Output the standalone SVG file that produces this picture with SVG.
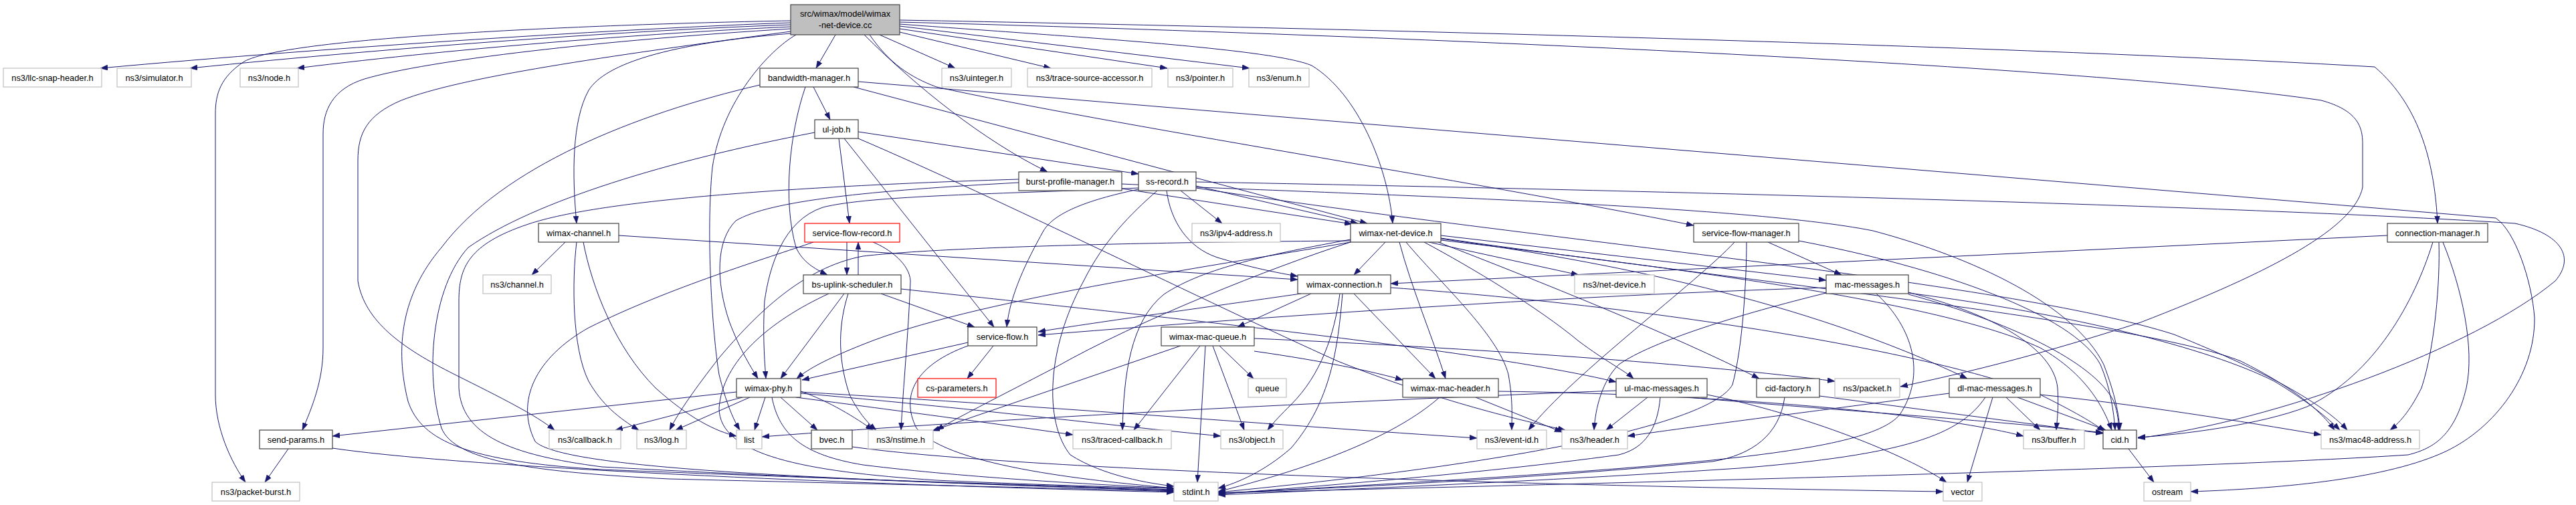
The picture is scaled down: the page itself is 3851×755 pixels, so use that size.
<svg xmlns="http://www.w3.org/2000/svg" width="3851" height="755" viewBox="0 0 3851 755">
<style>
.p rect{fill:#fff;stroke:#404040;stroke-width:1.2}
.x rect{fill:#fff;stroke:#bfbfbf;stroke-width:1.2}
.t rect{fill:#fff;stroke:#ff0000;stroke-width:1.2}
.root rect{fill:#bfbfbf;stroke:#404040;stroke-width:1.2}
text{font-family:"Liberation Sans",Arial,Helvetica,sans-serif;font-size:12.8px;text-anchor:middle;fill:#000}
#edges path{fill:none;stroke:#191970;stroke-width:1;marker-end:url(#arr)}
</style>
<defs>
<marker id="arr" viewBox="0 0 11 8" refX="11" refY="4" markerWidth="11" markerHeight="8" markerUnits="userSpaceOnUse" orient="auto"><path d="M0,0L11,4L0,8z" fill="#191970" stroke="#191970" stroke-width="0.5"/></marker>
</defs>
<rect x="0" y="0" width="3851" height="755" fill="#fff"/>
<g id="edges">
<path d="M1182,34 C950,42 500,70 150,102"/>
<path d="M1182,37 C950,45 600,70 284,102"/>
<path d="M1182,40 C1000,48 700,70 444,102"/>
<path d="M1182,31 C900,36 430,55 365,92 C330,115 322,140 322,170 L322,590 C322,640 345,690 367,721"/>
<path d="M1182,43 C900,60 640,90 545,118 C497,133 483,165 483,200 L483,520 C483,570 466,610 452,643"/>
<path d="M1182,47 C900,85 690,115 600,150 C548,172 535,200 535,240 L535,420 C545,480 600,520 680,560 C750,595 800,620 829,643"/>
<path d="M1182,50 C1000,65 905,95 880,135 C855,180 855,260 862,334"/>
<path d="M1249,52 L1220,102"/>
<path d="M1292,52 C1370,130 1470,210 1566,257"/>
<path d="M1315,52 L1428,102"/>
<path d="M1345,48 L1571,102"/>
<path d="M1345,43 L1745,102"/>
<path d="M1345,39 L1868,102"/>
<path d="M1345,36 C1600,55 1900,72 1961,98 C2030,140 2075,250 2082,334"/>
<path d="M1300,52 C1330,95 1360,115 1400,130 C1650,185 2200,270 2532,337"/>
<path d="M1345,30 C2000,42 3000,68 3550,100 C3620,160 3640,250 3644,334"/>
<path d="M1345,33 C2000,50 3100,95 3470,150 C3525,165 3532,190 3532,215 L3532,280 C3520,340 3400,405 3200,482 C3050,530 2950,555 2841,578"/>
<path d="M1190,52 C1150,75 1080,150 1065,250 C1055,350 1065,500 1075,560 C1085,600 1095,625 1106,643"/>
<path d="M1216,130 L1241,179"/>
<path d="M1204,130 C1180,200 1170,300 1190,370 C1200,392 1218,402 1237,411"/>
<path d="M1276,130 L2044,334"/>
<path d="M1283,122 L3731,326 C3760,345 3785,420 3789,475 C3790,560 3730,640 3656,675 C3570,715 3420,730 3275,735"/>
<path d="M1136,127 C950,170 750,250 660,370 C600,440 590,520 610,600 C630,660 700,690 900,702 C1300,718 1600,727 1755,732"/>
<path d="M1283,197 L1702,260"/>
<path d="M1254,207 L1270,334"/>
<path d="M1262,207 L1486,489"/>
<path d="M1283,207 C1500,300 1800,450 2000,540 C2150,600 2280,630 2340,643"/>
<path d="M1218,198 C1000,240 800,300 700,370 C645,430 635,560 660,640 C680,690 800,706 1000,716 C1400,726 1650,731 1755,735"/>
<path d="M1523,273 C1300,285 1150,300 1100,330 C1070,360 1070,420 1090,480 C1105,520 1120,545 1133,566"/>
<path d="M1523,268 C1200,278 900,298 790,335 C700,365 686,400 686,450 L686,580 C690,650 760,680 900,698 C1300,720 1600,728 1755,734"/>
<path d="M1677,282 L2021,335"/>
<path d="M1677,275 C2000,290 2600,305 2800,345 C2950,385 3100,455 3145,545 C3162,590 3168,620 3169,643"/>
<path d="M1765,285 L1827,334"/>
<path d="M1788,278 L2030,334"/>
<path d="M1702,281 C1500,290 1300,292 1230,310 C1170,330 1150,400 1143,450 C1140,500 1143,540 1145,566"/>
<path d="M1702,283 C1620,300 1575,320 1560,345 C1535,390 1510,440 1505,489"/>
<path d="M1744,285 C1750,330 1775,370 1820,385 C1870,400 1910,408 1940,413"/>
<path d="M1730,285 C1690,320 1650,360 1620,420 C1565,520 1560,630 1600,680 C1650,712 1720,723 1755,727"/>
<path d="M1788,281 C2300,360 3000,420 3250,500 C3400,560 3480,610 3509,643"/>
<path d="M1788,272 C2500,285 3400,310 3760,334 C3830,350 3850,385 3820,420 C3700,520 3400,630 3196,655"/>
<path d="M845,362 L795,411"/>
<path d="M862,362 C855,420 855,520 880,570 C900,605 925,625 955,643"/>
<path d="M872,362 C885,430 920,520 980,580 C1030,625 1070,645 1101,652"/>
<path d="M925,352 L1940,418"/>
<path d="M1266,362 L1266,411"/>
<path d="M1283,411 L1283,362"/>
<path d="M1305,362 C1330,372 1360,395 1361,420 C1358,500 1350,580 1347,643"/>
<path d="M1216,362 C1150,385 1000,430 880,490 C800,535 770,600 800,660 C840,700 1200,716 1755,733"/>
<path d="M1262,439 L1167,566"/>
<path d="M1317,439 L1457,489"/>
<path d="M1347,432 C1700,470 2200,520 2416,571"/>
<path d="M1268,439 C1255,480 1250,530 1270,590 C1285,620 1300,635 1310,643"/>
<path d="M1239,439 C1150,480 1080,540 1075,610 C1075,680 1200,705 1400,718 C1550,725 1700,729 1755,730"/>
<path d="M2071,362 L2024,411"/>
<path d="M2092,362 C2110,430 2140,500 2161,566"/>
<path d="M2102,362 C2150,420 2240,500 2255,560 C2262,600 2260,620 2260,643"/>
<path d="M2129,362 C2200,400 2300,460 2360,510 C2400,540 2430,555 2442,566"/>
<path d="M2136,362 L2360,411"/>
<path d="M2154,357 C2400,390 2700,450 2941,566"/>
<path d="M2154,352 L2730,419"/>
<path d="M2150,362 C2300,420 2500,500 2630,566"/>
<path d="M2154,356 C2600,420 3200,480 3350,540 C3430,580 3470,615 3490,643"/>
<path d="M2154,359 C2500,400 2900,450 3050,520 C3120,560 3145,610 3157,643"/>
<path d="M2019,358 C1900,380 1800,400 1740,440 C1690,480 1680,560 1678,643"/>
<path d="M2019,362 C1900,400 1700,480 1580,548 C1480,600 1430,625 1400,643"/>
<path d="M2019,360 C1700,362 1400,370 1290,383 C1200,400 1130,470 1075,535 C1040,580 1015,615 1001,643"/>
<path d="M2019,362 C1800,400 1450,450 1290,515 C1240,535 1210,550 1191,566"/>
<path d="M2593,362 C2540,420 2350,560 2285,643"/>
<path d="M2611,362 C2611,420 2605,520 2590,575 C2560,630 2300,690 1821,736"/>
<path d="M2643,362 L2753,411"/>
<path d="M2689,360 C2900,400 3100,470 3140,545 C3155,580 3160,615 3162,643"/>
<path d="M3569,352 L2079,424"/>
<path d="M3637,362 C3610,450 3550,560 3449,608 C3380,635 3260,650 3196,654"/>
<path d="M3646,362 C3648,420 3640,520 3620,580 C3605,610 3590,630 3573,643"/>
<path d="M3652,362 C3680,430 3700,520 3687,580 C3670,650 3640,670 3600,680 C3300,700 2500,720 1821,737"/>
<path d="M1960,439 L1850,489"/>
<path d="M1945,439 C1800,460 1650,480 1552,496"/>
<path d="M2024,439 L2146,566"/>
<path d="M2007,439 C2000,520 1990,600 1930,670 C1890,705 1850,722 1821,730"/>
<path d="M2003,439 C1995,500 1975,560 1930,605 C1915,620 1905,630 1895,643"/>
<path d="M2079,430 C2500,460 2900,530 3050,590 C3100,615 3130,632 3146,645"/>
<path d="M2730,430 C2400,440 2000,465 1552,501"/>
<path d="M2730,438 C2600,470 2470,510 2420,545 C2395,570 2385,610 2383,643"/>
<path d="M2805,439 C2860,490 2880,560 2840,620 C2790,680 2500,700 1821,738"/>
<path d="M2853,437 C2980,470 3070,520 3076,580 C3078,610 3075,630 3074,643"/>
<path d="M2853,440 C3000,480 3130,540 3160,600 C3167,620 3167,632 3167,643"/>
<path d="M2853,438 C3100,470 3300,520 3400,570 C3450,600 3480,625 3498,643"/>
<path d="M1485,517 L1446,566"/>
<path d="M1447,512 L1199,568"/>
<path d="M1447,517 C1370,545 1345,590 1370,640 C1420,700 1650,720 1755,730"/>
<path d="M1823,517 L1874,566"/>
<path d="M1765,517 L1394,644"/>
<path d="M1794,517 L1695,643"/>
<path d="M1813,517 L1860,643"/>
<path d="M1802,517 L1790,721"/>
<path d="M1875,525 C1980,540 2050,555 2097,568"/>
<path d="M1875,506 C2200,520 2550,545 2743,570"/>
<path d="M2206,594 L2335,646"/>
<path d="M2152,594 C2100,640 2000,690 1821,735"/>
<path d="M2240,585 C2600,590 2900,620 3025,652"/>
<path d="M2463,594 L2401,643"/>
<path d="M2416,584 C2000,600 1500,625 1139,653"/>
<path d="M2482,594 C2478,640 2460,670 2420,680 C2200,710 1950,728 1821,739"/>
<path d="M2525,594 C2700,610 3000,630 3144,647"/>
<path d="M2552,590 C2700,620 2850,680 2910,721"/>
<path d="M2720,592 L3144,648"/>
<path d="M2668,594 C2660,650 2620,680 2560,690 C2300,715 2000,730 1821,737"/>
<path d="M2914,588 C2750,610 2550,635 2433,652"/>
<path d="M2968,594 C2930,650 2850,680 2600,700 C2300,720 2000,732 1821,740"/>
<path d="M2979,594 L2941,721"/>
<path d="M2999,594 L3050,643"/>
<path d="M3016,594 L3148,643"/>
<path d="M3050,590 C3200,605 3350,630 3470,650"/>
<path d="M431,671 L396,721"/>
<path d="M497,670 C700,700 1300,725 1755,736"/>
<path d="M1110,594 L920,643"/>
<path d="M1121,594 L1010,643"/>
<path d="M1144,594 L1128,643"/>
<path d="M1167,594 L1222,643"/>
<path d="M1101,586 L497,652"/>
<path d="M1197,585 C1240,600 1280,625 1305,643"/>
<path d="M1197,586 C1600,610 1900,635 2208,655"/>
<path d="M1197,588 C1450,610 1650,635 1825,652"/>
<path d="M1190,594 C1350,615 1500,635 1604,650"/>
<path d="M1154,594 C1165,650 1200,680 1290,695 C1450,715 1650,725 1755,730"/>
<path d="M3182,671 L3220,721"/>
<path d="M1274,668 C1500,700 2200,725 2905,735"/>
</g>
<g id="n_root" class="root"><rect x="1182" y="7" width="163" height="45"/><text x="1263.5" y="24.5">src/wimax/model/wimax</text><text x="1263.5" y="41.5">-net-device.cc</text></g>
<g id="n_llc" class="x"><rect x="5" y="102" width="147" height="28"/><text x="78.5" y="120.5">ns3/llc-snap-header.h</text></g>
<g id="n_simulator" class="x"><rect x="175" y="102" width="111" height="28"/><text x="230.5" y="120.5">ns3/simulator.h</text></g>
<g id="n_node" class="x"><rect x="359" y="102" width="87" height="28"/><text x="402.5" y="120.5">ns3/node.h</text></g>
<g id="n_bandwidth_manager" class="p"><rect x="1136" y="102" width="147" height="28"/><text x="1209.5" y="120.5">bandwidth-manager.h</text></g>
<g id="n_uinteger" class="x"><rect x="1408" y="102" width="104" height="28"/><text x="1460" y="120.5">ns3/uinteger.h</text></g>
<g id="n_trace_source_accessor" class="x"><rect x="1536" y="102" width="186" height="28"/><text x="1629" y="120.5">ns3/trace-source-accessor.h</text></g>
<g id="n_pointer" class="x"><rect x="1746" y="102" width="97" height="28"/><text x="1794.5" y="120.5">ns3/pointer.h</text></g>
<g id="n_enum" class="x"><rect x="1867" y="102" width="90" height="28"/><text x="1912" y="120.5">ns3/enum.h</text></g>
<g id="n_ul_job" class="p"><rect x="1218" y="179" width="65" height="28"/><text x="1250.5" y="197.5">ul-job.h</text></g>
<g id="n_burst_profile_manager" class="p"><rect x="1523" y="257" width="154" height="28"/><text x="1600" y="275.5">burst-profile-manager.h</text></g>
<g id="n_ss_record" class="p"><rect x="1702" y="257" width="86" height="28"/><text x="1745" y="275.5">ss-record.h</text></g>
<g id="n_wimax_channel" class="p"><rect x="805" y="334" width="120" height="28"/><text x="865" y="352.5">wimax-channel.h</text></g>
<g id="n_service_flow_record" class="t"><rect x="1203" y="334" width="142" height="28"/><text x="1274" y="352.5">service-flow-record.h</text></g>
<g id="n_ipv4_address" class="x"><rect x="1782" y="334" width="132" height="28"/><text x="1848" y="352.5">ns3/ipv4-address.h</text></g>
<g id="n_wimax_net_device" class="p"><rect x="2019" y="334" width="135" height="28"/><text x="2086.5" y="352.5">wimax-net-device.h</text></g>
<g id="n_service_flow_manager" class="p"><rect x="2532" y="334" width="157" height="28"/><text x="2610.5" y="352.5">service-flow-manager.h</text></g>
<g id="n_connection_manager" class="p"><rect x="3569" y="334" width="150" height="28"/><text x="3644" y="352.5">connection-manager.h</text></g>
<g id="n_channel" class="x"><rect x="722" y="411" width="102" height="28"/><text x="773" y="429.5">ns3/channel.h</text></g>
<g id="n_bs_uplink_scheduler" class="p"><rect x="1201" y="411" width="146" height="28"/><text x="1274" y="429.5">bs-uplink-scheduler.h</text></g>
<g id="n_wimax_connection" class="p"><rect x="1940" y="411" width="139" height="28"/><text x="2009.5" y="429.5">wimax-connection.h</text></g>
<g id="n_net_device" class="x"><rect x="2354" y="411" width="119" height="28"/><text x="2413.5" y="429.5">ns3/net-device.h</text></g>
<g id="n_mac_messages" class="p"><rect x="2730" y="411" width="123" height="28"/><text x="2791.5" y="429.5">mac-messages.h</text></g>
<g id="n_service_flow" class="p"><rect x="1447" y="489" width="103" height="28"/><text x="1498.5" y="507.5">service-flow.h</text></g>
<g id="n_wimax_mac_queue" class="p"><rect x="1736" y="489" width="139" height="28"/><text x="1805.5" y="507.5">wimax-mac-queue.h</text></g>
<g id="n_wimax_phy" class="p"><rect x="1101" y="566" width="96" height="28"/><text x="1149" y="584.5">wimax-phy.h</text></g>
<g id="n_cs_parameters" class="t"><rect x="1372" y="566" width="117" height="28"/><text x="1430.5" y="584.5">cs-parameters.h</text></g>
<g id="n_queue" class="x"><rect x="1866" y="566" width="57" height="28"/><text x="1894.5" y="584.5">queue</text></g>
<g id="n_wimax_mac_header" class="p"><rect x="2097" y="566" width="143" height="28"/><text x="2168.5" y="584.5">wimax-mac-header.h</text></g>
<g id="n_ul_mac_messages" class="p"><rect x="2416" y="566" width="136" height="28"/><text x="2484" y="584.5">ul-mac-messages.h</text></g>
<g id="n_cid_factory" class="p"><rect x="2626" y="566" width="94" height="28"/><text x="2673" y="584.5">cid-factory.h</text></g>
<g id="n_packet" class="x"><rect x="2743" y="566" width="97" height="28"/><text x="2791.5" y="584.5">ns3/packet.h</text></g>
<g id="n_dl_mac_messages" class="p"><rect x="2914" y="566" width="136" height="28"/><text x="2982" y="584.5">dl-mac-messages.h</text></g>
<g id="n_send_params" class="p"><rect x="388" y="643" width="109" height="28"/><text x="442.5" y="661.5">send-params.h</text></g>
<g id="n_callback" class="x"><rect x="821" y="643" width="107" height="28"/><text x="874.5" y="661.5">ns3/callback.h</text></g>
<g id="n_log" class="x"><rect x="952" y="643" width="74" height="28"/><text x="989" y="661.5">ns3/log.h</text></g>
<g id="n_list" class="x"><rect x="1101" y="643" width="38" height="28"/><text x="1120" y="661.5">list</text></g>
<g id="n_bvec" class="p"><rect x="1213" y="643" width="61" height="28"/><text x="1243.5" y="661.5">bvec.h</text></g>
<g id="n_nstime" class="x"><rect x="1298" y="643" width="97" height="28"/><text x="1346.5" y="661.5">ns3/nstime.h</text></g>
<g id="n_traced_callback" class="x"><rect x="1604" y="643" width="147" height="28"/><text x="1677.5" y="661.5">ns3/traced-callback.h</text></g>
<g id="n_object" class="x"><rect x="1825" y="643" width="93" height="28"/><text x="1871.5" y="661.5">ns3/object.h</text></g>
<g id="n_event_id" class="x"><rect x="2208" y="643" width="104" height="28"/><text x="2260" y="661.5">ns3/event-id.h</text></g>
<g id="n_header" class="x"><rect x="2335" y="643" width="98" height="28"/><text x="2384" y="661.5">ns3/header.h</text></g>
<g id="n_buffer" class="x"><rect x="3025" y="643" width="91" height="28"/><text x="3070.5" y="661.5">ns3/buffer.h</text></g>
<g id="n_cid" class="p"><rect x="3144" y="643" width="50" height="28"/><text x="3169" y="661.5">cid.h</text></g>
<g id="n_mac48_address" class="x"><rect x="3470" y="643" width="147" height="28"/><text x="3543.5" y="661.5">ns3/mac48-address.h</text></g>
<g id="n_packet_burst" class="x"><rect x="317" y="721" width="131" height="28"/><text x="382.5" y="739.5">ns3/packet-burst.h</text></g>
<g id="n_stdint" class="x"><rect x="1755" y="721" width="66" height="28"/><text x="1788" y="739.5">stdint.h</text></g>
<g id="n_vector" class="x"><rect x="2905" y="721" width="58" height="28"/><text x="2934" y="739.5">vector</text></g>
<g id="n_ostream" class="x"><rect x="3205" y="721" width="70" height="28"/><text x="3240" y="739.5">ostream</text></g>
</svg>
